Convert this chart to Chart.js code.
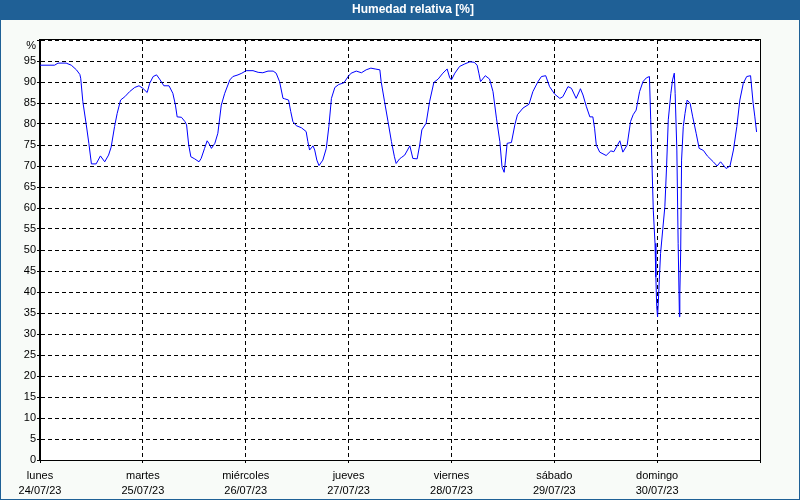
<!DOCTYPE html>
<html><head><meta charset="utf-8">
<script src="https://cdn.jsdelivr.net/npm/chart.js@4/dist/chart.umd.min.js"></script>
<style>html,body{margin:0;padding:0;background:#f8fbf8;}#wrap{width:800px;height:500px;position:relative;}</style>
</head><body><div id="wrap"><canvas id="c" width="800" height="500"></canvas></div>
<script>
const TITLE = 'Humedad relativa [%]';
const UNIT = '%';
const dayNames = ['lunes','martes','miércoles','jueves','viernes','sábado','domingo'];
const dayDates = ['24/07/23','25/07/23','26/07/23','27/07/23','28/07/23','29/07/23','30/07/23'];
// time in hours since lunes 24/07/23 00:00
const hours = [0,3.4,4.2,6.1,7.3,8.5,9.3,9.5,10,10.8,11.4,12,13.1,14.1,15.1,16,16.6,17.4,18,18.8,19.8,20.9,22.1,23.1,24,25,25.6,26.4,27.2,27.9,28.9,30.1,31,31.6,32,33,33.8,34.2,34.7,35.2,36.1,37.1,37.6,38.4,39,39.4,40,40.8,41.5,42.3,43.1,44.3,45,46.2,47.1,48.1,49.7,50.9,52,53.2,54.4,55.1,55.9,56.7,57.1,58,58.5,59,59.8,61,62.1,62.5,62.9,63.7,64.1,64.6,65.1,66,66.8,67.4,68,68.8,69.7,70.9,71.9,72.6,73.8,75,76.1,77.2,78.2,79.3,79.6,80.4,81.2,82,82.7,83.1,83.9,84.3,85.1,86.3,87,88,88.6,89.1,90.1,90.9,91.9,92.9,94,95,95.6,96,96.8,97.9,99.1,100.3,101.3,102,102.4,102.8,103.9,104.9,105.7,106.5,107.3,107.8,108.3,108.6,109,110,110.8,111.4,112.7,114.1,115,116.2,117,118,118.9,120.1,121.3,122,123.2,124,125.1,125.9,126.1,126.7,127.5,128.3,129,129.4,129.8,130.6,132.1,133.2,133.9,135.3,136,137,137.8,138.4,139.1,139.9,140.7,141.5,142.2,142.5,142.7,143.1,143.5,143.7,143.9,144.1,144.3,144.5,144.8,145.3,145.8,146.2,146.6,147.2,147.6,148,148.2,148.6,148.9,149.2,149.3,149.5,149.7,150.1,150.5,151,151.7,152.3,153.1,153.8,154.8,155.7,157.1,158,158.8,160.1,161,161.8,162.6,163.3,164.1,164.9,165.8,166.4,166.8,167.2];
const humidity = [94,94,94.5,94.5,94,92.9,91.8,90.9,85.3,79.8,75.4,70.5,70.5,72.4,71,72.6,74.5,79.4,82.5,85.7,86.5,87.7,88.7,89.1,88.5,87.5,89.7,91.3,91.7,90.7,89.1,89.1,87.3,84.5,81.7,81.6,80.6,79.8,75,72.2,71.7,71,71.8,74.2,76,75.4,74.2,75.4,77.8,84.5,87.3,90.5,91.3,91.7,92.1,92.7,92.7,92.3,92.2,92.6,92.6,92.1,90.1,86.1,86,85.7,83,80.6,79.6,79.1,78.2,75.8,73.8,74.8,73.8,71.4,70.1,71.4,74.2,79.4,86.1,88.7,89.4,89.8,91.3,92.1,92.6,92.2,92.9,93.3,93.1,92.9,90.1,85.3,80.6,75.8,72.2,70.6,71.7,72,72.6,74.8,71.8,71.7,75,78.6,80.2,85.3,89.9,90.7,92.1,93.1,91,90.5,92.1,93.7,94.3,94.8,94.7,94,92.1,90.1,91.5,90.7,87.7,81.4,75.8,69.8,68.5,71.2,75.4,75.6,79.8,82.2,83.8,84.7,87.7,90.1,91.3,91.5,88.9,87.1,86.1,86.5,88.9,88.5,86.1,87.9,88.4,86.9,84.1,81.7,81.7,79,75,73.3,72.5,73.6,73.4,76,73.3,75,80.6,82.2,83.3,87.7,90.1,91,91.3,81,73.8,59.5,51.6,43.6,36.5,34.1,38.1,42.9,49.2,54.8,60.3,69.8,81,87.3,90.5,92.1,87.3,73.8,51.6,34.1,39.7,50,71.4,79.4,82.5,85.7,84.9,81.7,77.8,74.2,73.7,72.4,71,70,71,69.4,70,73.8,79.4,85.7,89.7,91.3,91.5,84.9,81.7,78.1];

const FONT = 'Liberation Sans, Arial, sans-serif';
const frame = {
  id: 'frame',
  beforeDraw(chart) {
    const ctx = chart.ctx, a = chart.chartArea;
    ctx.save();
    ctx.fillStyle = '#f8fbf8';
    ctx.fillRect(0, 0, 800, 500);
    ctx.fillStyle = '#ffffff';
    ctx.fillRect(a.left, a.top, a.right - a.left, a.bottom - a.top);
    ctx.fillStyle = '#1f6096';
    ctx.fillRect(0, 0, 800, 20);
    ctx.fillStyle = '#ffffff';
    ctx.font = 'bold 12px ' + FONT;
    ctx.textAlign = 'center';
    ctx.textBaseline = 'middle';
    ctx.fillText(TITLE, 413, 10);
    ctx.restore();
  },
  afterDraw(chart) {
    const ctx = chart.ctx, a = chart.chartArea;
    ctx.save();
    ctx.strokeStyle = '#000';
    ctx.lineWidth = 1;
    ctx.strokeRect(Math.round(a.left) - 0.5, Math.round(a.top) - 0.5, Math.round(a.right - a.left) + 1, Math.round(a.bottom - a.top) + 1);
    ctx.fillStyle = '#000';
    ctx.font = '11px ' + FONT;
    ctx.textAlign = 'right';
    ctx.textBaseline = 'middle';
    ctx.fillText(UNIT, 36, 46);
    ctx.strokeStyle = '#1f6096';
    ctx.strokeRect(0.5, 0.5, 799, 499);
    ctx.restore();
  }
};

new Chart(document.getElementById('c'), {
  type: 'line',
  data: { datasets: [{
    data: hours.map((h, i) => ({ x: h, y: humidity[i] })),
    borderColor: '#0000ff', borderWidth: 1, pointRadius: 0, tension: 0, fill: false
  }]},
  options: {
    responsive: false, animation: false,
    layout: { padding: { left: 0, top: 40, right: 40, bottom: 0 } },
    plugins: { legend: { display: false }, tooltip: { enabled: false }, title: { display: false } },
    scales: {
      x: {
        type: 'linear', min: 0, max: 168,
        afterFit: s => { s.height = 40; },
        afterBuildTicks: s => { s.ticks = [0,24,48,72,96,120,144,168].map(v => ({ value: v })); },
        ticks: {
          autoSkip: false, maxRotation: 0, color: '#000', padding: 5,
          font: { family: FONT, size: 11, lineHeight: 1.4 },
          callback: v => v < 168 ? [dayNames[v / 24], dayDates[v / 24]] : ''
        },
        grid: { color: '#000', lineWidth: 1, tickLength: 3 },
        border: { display: true, color: '#000', dash: [4, 3] }
      },
      y: {
        min: 0, max: 100,
        afterFit: s => { s.width = 40; },
        ticks: {
          stepSize: 5, color: '#000', padding: 1,
          font: { family: FONT, size: 11 },
          callback: v => v === 100 ? '' : String(v)
        },
        grid: { color: '#000', lineWidth: 1, tickLength: 3 },
        border: { display: true, color: '#000', dash: [4, 3] }
      }
    }
  },
  plugins: [frame]
});
</script>
</body></html>
